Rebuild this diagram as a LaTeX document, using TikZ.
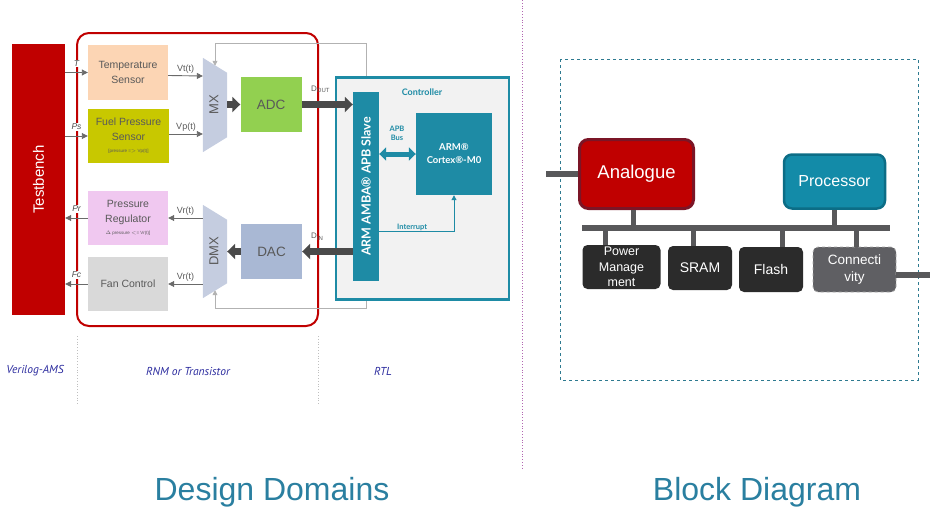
\documentclass[tikz,border=0pt]{standalone}
\usepackage{fontspec}
\setmainfont{Liberation Sans}
\newfontfamily\gill{Lato}
\newfontfamily\gilli{PT Sans}
\usetikzlibrary{arrows.meta}
\definecolor{tbred}{HTML}{C00000}
\definecolor{txtgray}{HTML}{595959}
\definecolor{arrgray}{HTML}{6A6A6A}
\definecolor{fatgray}{HTML}{4A4A4A}
\definecolor{tempc}{HTML}{FCD5B4}
\definecolor{fuelc}{HTML}{C8C800}
\definecolor{pregc}{HTML}{F0C8F0}
\definecolor{fanc}{HTML}{D9D9D9}
\definecolor{muxc}{HTML}{C5CDE0}
\definecolor{adcc}{HTML}{92D050}
\definecolor{dacc}{HTML}{A9B8D4}
\definecolor{ctlteal}{HTML}{1E8BA5}
\definecolor{ctlfill}{HTML}{F2F2F2}
\definecolor{navy}{HTML}{2B2B9E}
\definecolor{titleteal}{HTML}{2A7FA0}
\definecolor{anared}{HTML}{C00000}
\definecolor{anaborder}{HTML}{7B1526}
\definecolor{procc}{HTML}{138BA8}
\definecolor{procborder}{HTML}{0C6D86}
\definecolor{busc}{HTML}{58585A}
\definecolor{blkc}{HTML}{2B2B2B}
\definecolor{connc}{HTML}{5F5F63}
\definecolor{dashteal}{HTML}{2E7A90}
\begin{document}
\begin{tikzpicture}[x=1pt,y=-1pt,
  lbox/.style={inner sep=0pt, align=center, font=\fontsize{10.5}{15}\selectfont, text=txtgray},
  tarr/.style={draw=arrgray, line width=0.9pt, -{Triangle[width=6pt,length=6pt]}},
  fatarr/.style={draw=fatgray, line width=7pt, -{Triangle[width=15pt,length=8pt]}},
  sig/.style={font=\fontsize{9}{10}\selectfont, text=txtgray, inner sep=1pt},
  plab/.style={font=\itshape\fontsize{8.5}{9}\selectfont, text=black!70, fill=white, inner sep=0.8pt},
  ctltxt/.style={font=\gill\bfseries\fontsize{8}{9}\selectfont, text=ctlteal, align=center, inner sep=0pt},
  domlab/.style={font=\gilli\itshape\fontsize{11.5}{13}\selectfont, text=navy},
  sepline/.style={draw=black!25, dotted, line width=0.8pt},
  busline/.style={draw=busc, line width=6pt},
  blk/.style={fill=blkc, rounded corners=5pt, inner sep=0pt, text=white, align=center},
  title/.style={font=\fontsize{32}{36}\selectfont, text=titleteal}
]
\useasboundingbox (0,0) rectangle (943,525);

% ---------- Design domains ----------
% red frame
\draw[tbred, line width=2pt, rounded corners=12pt] (77,33) rectangle (318,326);

\node[fill=tbred, minimum width=53pt, minimum height=271pt, inner sep=0pt] (tb) at (38.5,179.5) {};
\node[rotate=90, text=white, font=\fontsize{15}{16}\selectfont] at (tb) {Testbench};

\node[lbox, fill=tempc, minimum width=80pt, minimum height=55pt] (temp) at (128,72.5) {Temperature\\Sensor};
\node[lbox, fill=fuelc, minimum width=81pt, minimum height=54pt] (fuel) at (128.5,136) {Fuel Pressure\\Sensor\\[-3pt]{\fontsize{4.5}{5}\selectfont [pressure =$>$ Vp(t)]}};
\node[lbox, fill=pregc, minimum width=80pt, minimum height=54pt] (preg) at (128,218) {Pressure\\Regulator\\[-3pt]{\fontsize{4.5}{5}\selectfont $\Delta$ pressure $<$= Vr(t)]}};
\node[lbox, fill=fanc, minimum width=80pt, minimum height=54pt] (fan) at (128,284) {Fan Control};

% gray control frame
\node[minimum width=24pt, minimum height=94pt, inner sep=0pt] (mx) at (215,105) {};
\node[minimum width=24pt, minimum height=93pt, inner sep=0pt] (dmx) at (215,251.5) {};
\draw[draw=black!30, line width=0.7pt, {Triangle[width=5pt,length=5pt]}-{Triangle[width=5pt,length=5pt]}]
  ([yshift=-8pt]mx.north) -- (mx.north |- 0,43) -- (366,43) -- (366,308) -- (dmx.south |- 0,308) -- ([yshift=8pt]dmx.south);

% muxes
\fill[muxc] (mx.north west) -- ([yshift=-15pt]mx.north east) -- ([yshift=15pt]mx.south east) -- (mx.south west) -- cycle;
\node[rotate=90, text=txtgray, font=\fontsize{13}{14}\selectfont] at ([xshift=-1pt]mx.center) {MX};
\fill[muxc] (dmx.north west) -- ([yshift=-15pt]dmx.north east) -- ([yshift=15pt]dmx.south east) -- (dmx.south west) -- cycle;
\node[rotate=90, text=txtgray, font=\fontsize{13}{14}\selectfont] at ([xshift=-1pt]dmx.center) {DMX};

\node[lbox, fill=adcc, minimum width=61pt, minimum height=55pt, font=\fontsize{13.5}{15}\selectfont] (adc) at (271,104.5) {ADC};
\node[lbox, fill=dacc, minimum width=61pt, minimum height=55pt, font=\fontsize{13.5}{15}\selectfont] (dac) at (271.5,251.5) {DAC};

% controller
\node[draw=ctlteal, fill=ctlfill, line width=2.5pt, minimum width=173pt, minimum height=222pt, inner sep=0pt] (ctrl) at (422.5,188.5) {};
\node[fill=ctlteal, minimum width=26pt, minimum height=189pt, inner sep=0pt] (slave) at (366,186.5) {};
\node[rotate=90, text=white, font=\gill\bfseries\fontsize{12.5}{13}\selectfont] at (slave) {ARM AMBA\textregistered{} APB Slave};
\node[fill=ctlteal, minimum width=76pt, minimum height=82pt, inner sep=0pt, text=white, align=center, font=\gill\bfseries\fontsize{9.5}{13}\selectfont] (cortex) at (454,154) {ARM\textregistered\\Cortex\textregistered-M0};
\node[ctltxt, font=\gill\bfseries\fontsize{9}{10}\selectfont] at (422,92) {Controller};
\draw[draw=ctlteal, line width=5pt, {Triangle[width=13pt,length=7pt]}-{Triangle[width=13pt,length=7pt]}]
  (slave.east |- cortex.west) -- (cortex.west);
\node[ctltxt, font=\gill\bfseries\fontsize{7.5}{9}\selectfont] at (397,133) {APB\\Bus};
\draw[draw=ctlteal, line width=1pt, -{Triangle[width=5pt,length=5pt]}]
  ([yshift=-45pt]slave.east) -| (cortex.south) node[pos=0.22, above=0pt, ctltxt, font=\gill\bfseries\fontsize{7.5}{9}\selectfont] {Interrupt};

% thin arrows
\draw[tarr] (tb.east |- temp.west) -- (temp.west) node[midway, above=5pt, plab] {T};
\draw[tarr] (tb.east |- fuel.west) -- (fuel.west) node[midway, above=5pt, plab] {Ps};
\draw[tarr] (preg.west) -- (tb.east |- preg.west) node[midway, above=5pt, plab] {Pr};
\draw[tarr] (fan.west) -- (tb.east |- fan.west) node[midway, above=5pt, plab] {Fc};
\draw[tarr] ([yshift=-3pt]temp.east) -- (mx.west |- 0,76) node[midway, above=1pt, sig] {Vt(t)};
\draw[tarr] ([yshift=2pt]fuel.east) -- (mx.west |- 0,134) node[midway, above=1pt, sig] {Vp(t)};
\draw[tarr] (dmx.west |- preg.east) -- (preg.east) node[midway, above=1pt, sig] {Vr(t)};
\draw[tarr] (dmx.west |- fan.east) -- (fan.east) node[midway, above=1pt, sig] {Vr(t)};

% fat arrows
\draw[fatarr] (mx.east |- adc.west) -- (adc.west);
\draw[fatarr] (adc.east) -- (slave.west |- adc.east) node[pos=0.37, above=7pt, sig, font=\fontsize{8}{9}\selectfont] {D\textsubscript{OUT}};
\draw[fatarr] (slave.west |- dac.east) -- (dac.east) node[pos=0.7, above=7pt, sig, font=\fontsize{8}{9}\selectfont] {D\textsubscript{IN}};
\draw[fatarr] (dac.west) -- (dmx.east |- dac.west);

% domain labels
\draw[sepline] (77,336) -- (77,405);
\draw[sepline] (318,336) -- (318,405);
\node[domlab] (dl1) at (35,371) {Verilog-AMS};
\node[domlab] (dl2) at (188,371) {RNM or Transistor};
\node[domlab] (dl3) at (383,371) {RTL};

% divider
\draw[draw=violet!60, dotted, line width=0.8pt] (522,0) -- (522,470);

\node[title] (t1) at (272,492) {Design Domains};
\node[title] (t2) at (757,492) {Block Diagram};

% ---------- Block diagram ----------
\draw[draw=dashteal, dashed, line width=1pt] (560,59) rectangle (918,380);
\node[fill=anared, draw=anaborder, line width=3pt, rounded corners=9pt, minimum width=114pt, minimum height=69pt, inner sep=0pt, text=white, font=\fontsize{18.5}{20}\selectfont] (ana) at (636.5,174) {Analogue};
\node[fill=procc, draw=procborder, line width=2.5pt, rounded corners=8pt, minimum width=101pt, minimum height=54pt, inner sep=0pt, text=white, font=\fontsize{16}{18}\selectfont] (proc) at (834.5,181.5) {Processor};
\coordinate (busL) at (582,228);
\coordinate (busR) at (890,228);
\coordinate (inL) at (546,174);
\coordinate (outR) at (930,275);

\node[blk, minimum width=78pt, minimum height=44pt, font=\fontsize{12.5}{15.5}\selectfont] (pm) at (621.5,267) {Power\\Manage\\ment};
\node[blk, minimum width=64pt, minimum height=44pt, font=\fontsize{14}{16}\selectfont] (sram) at (700,268) {SRAM};
\node[blk, minimum width=64pt, minimum height=45pt, font=\fontsize{14}{16}\selectfont] (flash) at (771,269.5) {Flash};
\node[blk, fill=connc, draw=black!35, dashed, line width=0.8pt, minimum width=83pt, minimum height=45pt, font=\fontsize{13.5}{17}\selectfont] (conn) at (854.5,269.5) {Connecti\\vity};

\draw[busline] (inL) -- (ana.west |- inL);
\draw[busline] (busL) -- (busR);
\draw[busline, line width=5pt] ([xshift=-3pt]ana.south) -- ([xshift=-3pt]ana.south |- busL);
\draw[busline, line width=5pt] (proc.south) -- (proc.south |- busL);
\draw[busline, line width=5pt] ([xshift=-16pt]pm.north |- busL) -- ([xshift=-16pt]pm.north);
\draw[busline, line width=5pt] ([xshift=-7pt]sram.north |- busL) -- ([xshift=-7pt]sram.north);
\draw[busline, line width=5pt] ([xshift=11pt]flash.north |- busL) -- ([xshift=11pt]flash.north);
\draw[busline, line width=5pt] ([xshift=2pt]conn.north |- busL) -- ([xshift=2pt]conn.north);
\draw[busline] (conn.east |- outR) -- (outR);
\end{tikzpicture}
\end{document}
